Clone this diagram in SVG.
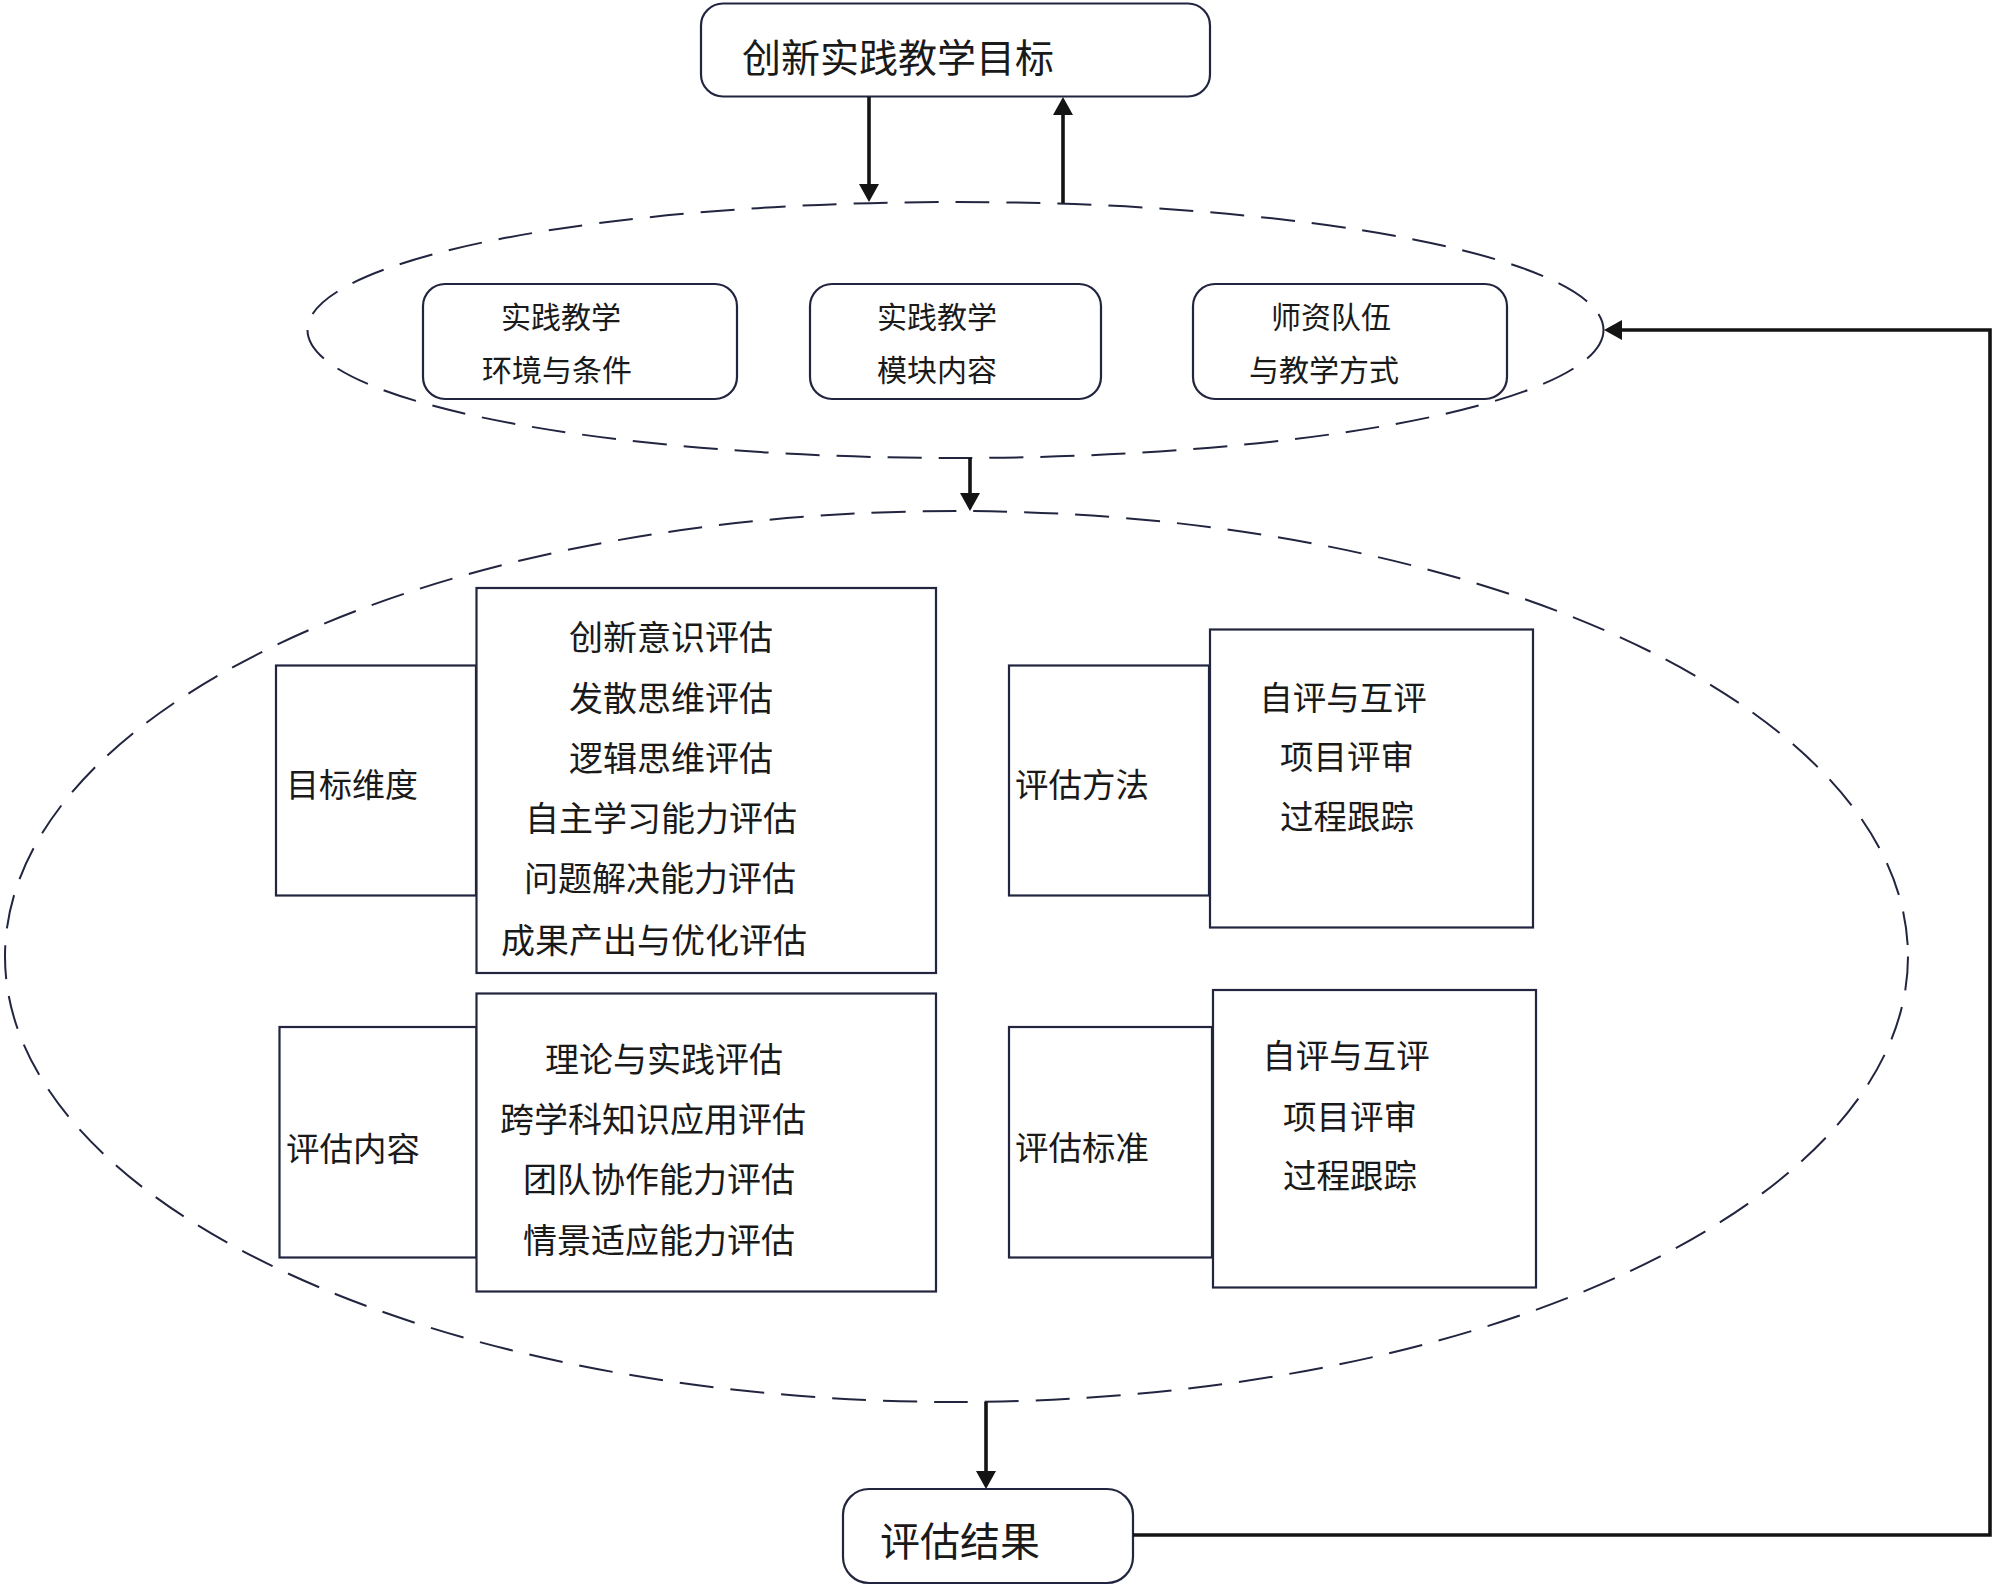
<svg xmlns="http://www.w3.org/2000/svg" width="2000" height="1586" viewBox="0 0 2000 1586">
<defs>
<style>
.t{font-family:"Noto Sans CJK SC","Noto Sans",sans-serif;fill:#1a1a1a;}
.box{fill:#fff;stroke:#22253f;stroke-width:2.2;}
.dash{fill:none;stroke:#22253f;stroke-width:2;stroke-dasharray:34 17;}
.ln{fill:none;stroke:#141414;stroke-width:3.6;}
</style>
<marker id="ah" markerUnits="userSpaceOnUse" markerWidth="18" markerHeight="20" viewBox="0 0 18 20" refX="0" refY="10" orient="auto">
<path d="M0,0 L18,10 L0,20 z" fill="#141414"/>
</marker>
</defs>
<rect width="2000" height="1586" fill="#fff"/>

<g id="ellipses">
<ellipse cx="955.5" cy="330" rx="648" ry="128" class="dash"/>
<ellipse cx="956.5" cy="956.5" rx="951.5" ry="445.5" class="dash"/>
</g>

<g id="goal">
<rect x="701" y="3.5" width="509" height="93" rx="22" class="box"/>
<text class="t" x="742" y="72" font-size="39">创新实践教学目标</text>
</g>

<g id="env">
<rect x="423" y="284" width="314" height="115" rx="22" class="box"/>
<text class="t" x="561" y="328" font-size="30" text-anchor="middle">实践教学</text>
<text class="t" x="557" y="381" font-size="30" text-anchor="middle">环境与条件</text>
</g>
<g id="module">
<rect x="810" y="284" width="291" height="115" rx="22" class="box"/>
<text class="t" x="937" y="328" font-size="30" text-anchor="middle">实践教学</text>
<text class="t" x="937" y="381" font-size="30" text-anchor="middle">模块内容</text>
</g>
<g id="teacher">
<rect x="1193" y="284" width="314" height="115" rx="22" class="box"/>
<text class="t" x="1331" y="328" font-size="30" text-anchor="middle">师资队伍</text>
<text class="t" x="1324" y="381" font-size="30" text-anchor="middle">与教学方式</text>
</g>

<g id="dim">
<rect x="276" y="665.5" width="200" height="230" class="box"/>
<rect x="476.5" y="588" width="459.5" height="385" class="box"/>
<text class="t" x="286" y="797" font-size="33">目标维度</text>
<g font-size="34" text-anchor="middle">
<text class="t" x="671" y="650">创新意识评估</text>
<text class="t" x="671" y="710.5">发散思维评估</text>
<text class="t" x="671" y="770.5">逻辑思维评估</text>
<text class="t" x="661" y="831">自主学习能力评估</text>
<text class="t" x="660" y="891">问题解决能力评估</text>
<text class="t" x="654" y="953">成果产出与优化评估</text>
</g>
</g>

<g id="method">
<rect x="1009" y="665.5" width="200" height="230" class="box"/>
<rect x="1210" y="629.5" width="323" height="298" class="box"/>
<text class="t" x="1015" y="797" font-size="33.5">评估方法</text>
<g font-size="33.5" text-anchor="middle">
<text class="t" x="1343" y="710">自评与互评</text>
<text class="t" x="1347" y="769">项目评审</text>
<text class="t" x="1347" y="829">过程跟踪</text>
</g>
</g>

<g id="content">
<rect x="279.5" y="1027" width="197" height="230.5" class="box"/>
<rect x="476.5" y="993.5" width="459.5" height="298" class="box"/>
<text class="t" x="286" y="1161" font-size="33.5">评估内容</text>
<g font-size="34" text-anchor="middle">
<text class="t" x="664" y="1072">理论与实践评估</text>
<text class="t" x="653" y="1132">跨学科知识应用评估</text>
<text class="t" x="659" y="1192">团队协作能力评估</text>
<text class="t" x="659" y="1253">情景适应能力评估</text>
</g>
</g>

<g id="standard">
<rect x="1009" y="1027" width="203" height="230.5" class="box"/>
<rect x="1213" y="990" width="323" height="297.5" class="box"/>
<text class="t" x="1015" y="1160" font-size="33.5">评估标准</text>
<g font-size="33.5" text-anchor="middle">
<text class="t" x="1346" y="1068">自评与互评</text>
<text class="t" x="1350" y="1129">项目评审</text>
<text class="t" x="1350" y="1188">过程跟踪</text>
</g>
</g>

<g id="result">
<rect x="843" y="1489" width="290" height="94" rx="26" class="box"/>
<text class="t" x="880" y="1556" font-size="40">评估结果</text>
</g>

<g id="connectors">
<line x1="869" y1="97" x2="869" y2="184" class="ln" marker-end="url(#ah)"/>
<line x1="1063" y1="203" x2="1063" y2="115" class="ln" marker-end="url(#ah)"/>
<line x1="970" y1="458" x2="970" y2="493" class="ln" marker-end="url(#ah)"/>
<line x1="986" y1="1402" x2="986" y2="1471" class="ln" marker-end="url(#ah)"/>
<path d="M1133,1535 H1990 V330 H1622" class="ln" marker-end="url(#ah)"/>
</g>
</svg>
